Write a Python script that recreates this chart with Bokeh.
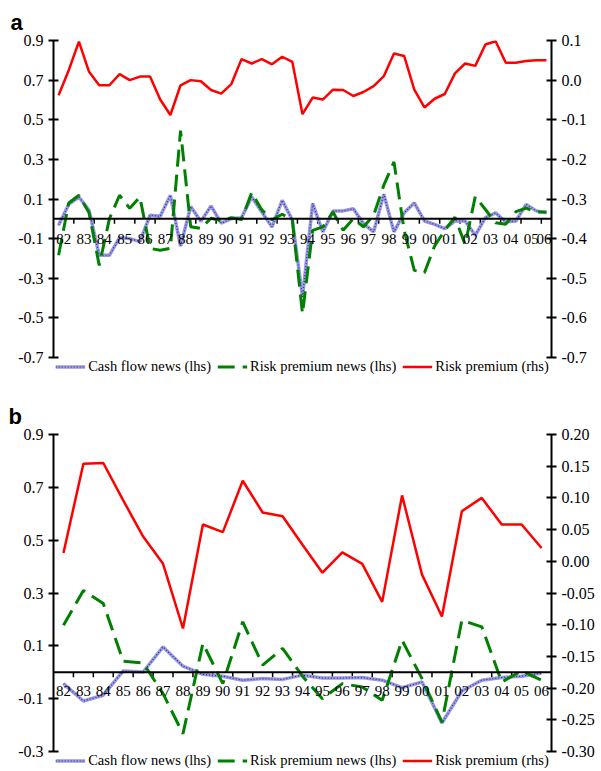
import numpy as np
from bokeh.plotting import figure
from bokeh.models import (Range1d, LinearAxis, FixedTicker, PrintfTickFormatter, Span,
                          ColumnDataSource, LabelSet, Legend, LegendItem)
from bokeh.layouts import column
from bokeh.core.properties import value
from bokeh.embed import file_html
from bokeh.resources import INLINE

years = ["82", "83", "84", "85", "86", "87", "88", "89", "90", "91", "92", "93", "94",
         "95", "96", "97", "98", "99", "00", "01", "02", "03", "04", "05", "06"]

# Panel a: half-yearly observations
a_cash = [-0.033, 0.073, 0.110, 0.043, -0.184, -0.184, -0.095, -0.100, -0.115, 0.018,
          0.013, 0.119, -0.138, 0.062, -0.013, 0.065, -0.022, 0.001, 0.006, 0.110,
          0.034, -0.041, 0.093, -0.006, -0.395, 0.077, -0.066, 0.040, 0.040, 0.051,
          -0.024, -0.066, 0.124, -0.066, 0.030, 0.080, -0.011, -0.028, -0.050, -0.011,
          -0.011, -0.083, 0.006, 0.030, -0.016, -0.011, 0.073, 0.040, 0.031]
a_rpnews = [-0.184, 0.080, 0.119, 0.030, -0.235, 0.000, 0.119, 0.053, 0.110, -0.149,
            -0.159, -0.149, 0.445, -0.040, -0.048, 0.003, -0.010, 0.006, -0.004, 0.132,
            0.045, -0.005, 0.023, -0.006, -0.479, -0.058, -0.041, 0.034, -0.058, 0.001,
            -0.041, 0.018, 0.170, 0.287, -0.058, -0.260, -0.272, -0.137, -0.058, 0.008,
            -0.130, 0.112, 0.047, -0.020, -0.027, 0.036, 0.054, 0.034, 0.034]
a_rp = [-0.038, 0.025, 0.097, 0.021, -0.013, -0.013, 0.015, 0.000, 0.009, 0.009,
        -0.049, -0.088, -0.013, 0.000, -0.003, -0.025, -0.034, -0.010, 0.053, 0.042,
        0.053, 0.040, 0.059, 0.046, -0.086, -0.044, -0.049, -0.024, -0.025, -0.040,
        -0.030, -0.015, 0.010, 0.067, 0.061, -0.024, -0.069, -0.047, -0.035, 0.017,
        0.042, 0.036, 0.090, 0.098, 0.044, 0.044, 0.048, 0.050, 0.050]

# Panel b: annual observations
b_cash = [-0.043, -0.109, -0.087, 0.005, 0.001, 0.096, 0.023, -0.008, -0.015, -0.030,
          -0.024, -0.027, -0.011, -0.022, -0.022, -0.020, -0.030, -0.058, -0.037, -0.192,
          -0.071, -0.030, -0.020, -0.015, -0.003]
b_rpnews = [0.178, 0.309, 0.260, 0.042, 0.035, -0.081, -0.233, 0.109, -0.043, 0.191,
            0.027, 0.090, -0.015, -0.100, -0.043, -0.056, -0.106, 0.121, -0.024, -0.189,
            0.197, 0.172, -0.037, 0.005, -0.030]
b_rp = [0.013, 0.154, 0.155, 0.096, 0.039, -0.004, -0.106, 0.058, 0.046, 0.127,
        0.077, 0.071, 0.026, -0.018, 0.014, -0.004, -0.064, 0.104, -0.021, -0.087,
        0.079, 0.100, 0.058, 0.058, 0.021]

a_left_ticks = [0.9, 0.7, 0.5, 0.3, 0.1, -0.1, -0.3, -0.5, -0.7]
a_right_ticks = [0.1, 0.0, -0.1, -0.2, -0.3, -0.4, -0.5, -0.6, -0.7]
b_left_ticks = [0.9, 0.7, 0.5, 0.3, 0.1, -0.1, -0.3]
b_right_ticks = [0.20, 0.15, 0.10, 0.05, 0.00, -0.05, -0.10, -0.15, -0.20, -0.25, -0.30]

legend_labels = ["Cash flow news (lhs)", "Risk premium news (lhs)", "Risk premium (rhs)"]

SERIF = "Liberation Serif"
BLUE_BG = "#9a9ae0"
BLUE_FG = "#2a2aa0"
GREEN = "#008000"
RED = "#ff0000"

PLOT_H = 317      # height of the axes area in px
LEGEND_H = 18     # strip under the axes that holds the legend


def style_axis(ax):
    ax.axis_line_width = 2
    ax.axis_line_color = "black"
    ax.major_tick_line_width = 2
    ax.major_tick_line_color = "black"
    ax.major_tick_in = 5
    ax.major_tick_out = 5
    ax.minor_tick_line_color = None
    ax.major_label_text_font = SERIF
    ax.major_label_text_font_size = "16px"
    ax.major_label_text_color = "black"
    ax.major_label_standoff = 5


def panel(letter, x, cash, rpnews, rp, lrange, rrange, lticks, rticks, lfmt, rfmt,
          label_x, tick_x, w, mb_left, mb_right, mb_top, title_off, lab_off):
    h = mb_top + PLOT_H + LEGEND_H
    pxu = PLOT_H / (lrange[1] - lrange[0])
    pxu_r = PLOT_H / (rrange[1] - rrange[0])
    p = figure(width=w, height=h,
               x_range=Range1d(-0.5, len(x) - 0.5),
               y_range=Range1d(lrange[0] - LEGEND_H / pxu, lrange[1]),
               output_backend="svg", toolbar_location=None,
               x_axis_location=None, y_axis_location=None,
               min_border_left=mb_left, min_border_right=mb_right,
               min_border_top=mb_top, min_border_bottom=0,
               outline_line_color=None, title=letter)
    p.grid.grid_line_color = None
    p.title.text_font = "Liberation Sans"
    p.title.text_font_style = "bold"
    p.title.text_font_size = "22px"
    p.title.text_color = "black"
    p.title.align = "left"
    p.title.offset = title_off
    p.title.standoff = 11

    p.extra_y_ranges = {"r": Range1d(rrange[0] - LEGEND_H / pxu_r, rrange[1])}
    lax = LinearAxis(ticker=FixedTicker(ticks=lticks), formatter=PrintfTickFormatter(format=lfmt),
                     bounds=lrange)
    rax = LinearAxis(y_range_name="r", ticker=FixedTicker(ticks=rticks),
                     formatter=PrintfTickFormatter(format=rfmt), bounds=rrange)
    style_axis(lax)
    style_axis(rax)
    p.add_layout(lax, "left")
    p.add_layout(rax, "right")

    # horizontal category axis drawn at zero
    p.add_layout(Span(location=0, dimension="width", line_color="black", line_width=2))
    p.segment(x0=tick_x, y0=[0] * len(tick_x), x1=tick_x, y1=[-5.0 / pxu] * len(tick_x),
              line_color="black", line_width=1.5)
    # keep the last label whole inside the frame
    x_hi = len(x) - 0.5 - 7.5 / (w - mb_left - mb_right) * len(x)
    lx = [min(v, x_hi) for v in label_x]
    src = ColumnDataSource(dict(x=lx, y=[-lab_off / pxu] * len(lx), t=years))
    p.add_layout(LabelSet(x="x", y="y", text="t", source=src, text_align="center",
                          text_baseline="middle", text_font=value(SERIF),
                          text_font_size=value("15px"), text_color="black"))

    r1 = p.line(x, cash, line_color=BLUE_BG, line_width=3.5)
    r2 = p.line(x, cash, line_color=BLUE_FG, line_width=1.2, line_dash="1 2")
    r3 = p.line(x, rpnews, line_color=GREEN, line_width=3, line_dash="17 8")
    r4 = p.line(x, rp, line_color=RED, line_width=2.5, y_range_name="r")

    legend = Legend(items=[LegendItem(label=legend_labels[0], renderers=[r1, r2]),
                           LegendItem(label=legend_labels[1], renderers=[r3]),
                           LegendItem(label=legend_labels[2], renderers=[r4])],
                    orientation="horizontal", location="bottom_center",
                    label_text_font=SERIF, label_text_font_size="14.5px",
                    label_text_color="black",
                    glyph_width=30, glyph_height=13, label_height=13,
                    label_standoff=3, spacing=6, padding=0, margin=0,
                    border_line_color=None, background_fill_alpha=0)
    p.add_layout(legend, "center")
    return p


xa = list(np.arange(len(a_rp)))
xb = list(np.arange(len(b_rp)))
a_label_x = [2 * k + 0.5 for k in range(len(years))]
a_tick_x = [2 * k - 0.5 for k in range(1, len(years))]
b_label_x = [k for k in range(len(years))]
b_tick_x = [k + 0.5 for k in range(len(years) - 1)]

pa = panel("a", xa, a_cash, a_rpnews, a_rp, (-0.7, 0.9), (-0.7, 0.1),
           a_left_ticks, a_right_ticks, "%.1f", "%.1f", a_label_x, a_tick_x,
           601, 50, 45, 40, -43, 20.5)
pb = panel("b", xb, b_cash, b_rpnews, b_rp, (-0.3, 0.9), (-0.30, 0.20),
           b_left_ticks, b_right_ticks, "%.1f", "%.2f", b_label_x, b_tick_x,
           601, 53, 50, 59, -45, 18.5)

layout = column(pa, pb, spacing=0)
open("out.html", "w").write(file_html(layout, INLINE))
